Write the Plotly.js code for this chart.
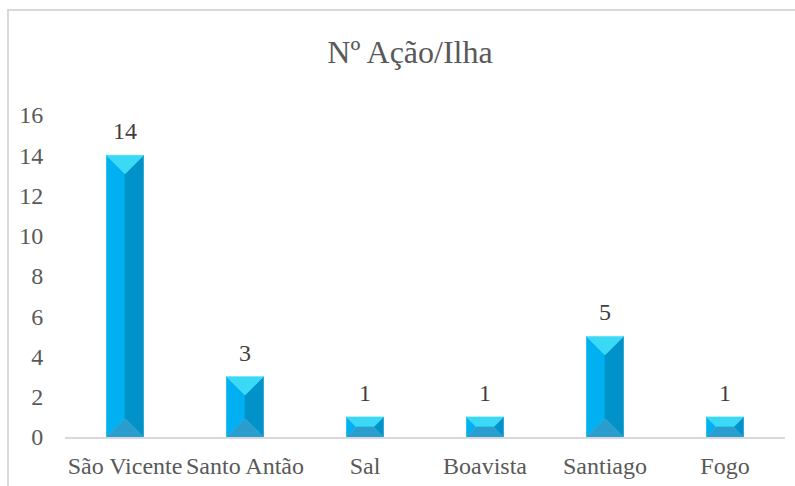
<!DOCTYPE html>
<html>
<head>
<meta charset="utf-8">
<script src="https://cdn.plot.ly/plotly-3.0.1.min.js"></script>
<style>html,body{margin:0;padding:0;background:#fff;}#chart{width:795px;height:486px;}</style>
</head>
<body>
<div id="chart"></div>
<script>
const categories = ["São Vicente", "Santo Antão", "Sal", "Boavista", "Santiago", "Fogo"];
const values = [14, 3, 1, 1, 5, 1];
const yTicks = [0, 2, 4, 6, 8, 10, 12, 14, 16];

const W = 795, H = 486;
const M = {l: 65, r: 10, t: 115, b: 49};
const xRange = [-0.5, categories.length - 0.5];
const yRange = [0, 16];
const pxX = (W - M.l - M.r) / (xRange[1] - xRange[0]);
const pxY = (H - M.t - M.b) / (yRange[1] - yRange[0]);
const hw = 0.154;
const FONT = "Liberation Serif, Times New Roman, serif";

const colTop = "#3ADAF7", colLeft = "#00B0F0", colRight = "#0092C8", colBot = "#2A9DCF";
const traces = [];
function poly(xs, ys, color) {
  traces.push({type: "scatter", mode: "lines", x: xs.concat([xs[0]]), y: ys.concat([ys[0]]),
    fill: "toself", fillcolor: color, line: {width: 0.6, color: color}, hoverinfo: "skip", showlegend: false});
}
values.forEach((v, i) => {
  const x0 = i - hw, x1 = i + hw;
  const rpx = Math.min(hw * pxX, v * pxY / 2);
  const ix = rpx / pxX, iy = rpx / pxY;
  const ax = x0 + ix, bx = x1 - ix, ay = iy, by = v - iy;
  poly([x0, x0, ax, ax], [0, v, by, ay], colLeft);
  poly([x1, x1, bx, bx], [0, v, by, ay], colRight);
  poly([x0, x1, bx, ax], [v, v, by, by], colTop);
  poly([x0, x1, bx, ax], [0, 0, ay, ay], colBot);
});

const annotations = values.map((v, i) => ({
  x: i, y: v, xref: "x", yref: "y", text: String(v), showarrow: false,
  xanchor: "center", yanchor: "bottom", yshift: 9,
  font: {family: FONT, size: 24, color: "#404040"}
}));

const layout = {
  width: W, height: H, margin: M,
  paper_bgcolor: "#fff", plot_bgcolor: "#fff",
  font: {family: FONT, size: 24, color: "#595959"},
  title: {text: "Nº Ação/Ilha", x: 410 / W, xanchor: "center", y: 1 - 52 / H, yanchor: "middle",
    font: {family: FONT, size: 32, color: "#595959"}},
  xaxis: {range: xRange, tickvals: categories.map((c, i) => i), ticktext: categories,
    showgrid: false, zeroline: false, showline: true, linecolor: "#D9D9D9", linewidth: 1.5,
    ticks: "outside", ticklen: 7, tickcolor: "rgba(0,0,0,0)", fixedrange: true},
  yaxis: {range: yRange, tickvals: yTicks, showgrid: false, zeroline: false, showline: false,
    ticks: "outside", ticklen: 16, tickcolor: "rgba(0,0,0,0)", fixedrange: true},
  annotations: annotations,
  shapes: [{type: "rect", xref: "paper", yref: "paper",
    x0: (8 - M.l) / (W - M.l - M.r), x1: (820 - M.l) / (W - M.l - M.r),
    y0: (H - M.b - 520) / (H - M.t - M.b), y1: (H - M.b - 10) / (H - M.t - M.b),
    line: {color: "#D9D9D9", width: 2}, layer: "below"}]
};
Plotly.newPlot("chart", traces, layout, {displayModeBar: false, staticPlot: true});
</script>
</body>
</html>
